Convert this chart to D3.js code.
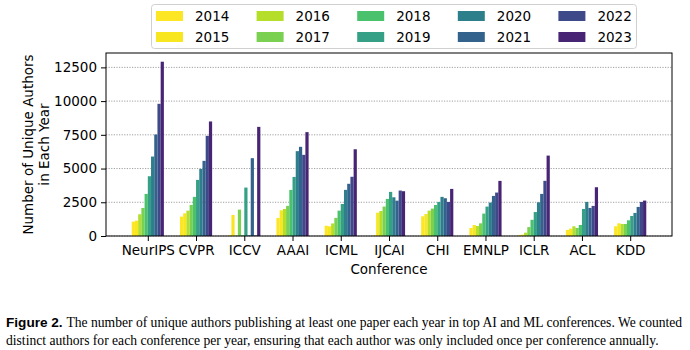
<!DOCTYPE html>
<html>
<head>
<meta charset="utf-8">
<script src="https://cdnjs.cloudflare.com/ajax/libs/d3/7.8.5/d3.min.js"></script>
<style>
  body { margin: 0; background: #fff; }
  svg { display: block; }
</style>
</head>
<body>
<script>
// categories and series
var conferences = ["NeurIPS", "CVPR", "ICCV", "AAAI", "ICML", "IJCAI", "CHI", "EMNLP", "ICLR", "ACL", "KDD"];
var years = [2014, 2015, 2016, 2017, 2018, 2019, 2020, 2021, 2022, 2023];
var yearColors = ["#fde725", "#f8e621", "#b5de2b", "#7ad151", "#4ac16d", "#35a085", "#2e7f8c", "#33638d", "#3e4989", "#482475"];

// unique authors per year (2014..2023), one array per conference
var neurips = [1064, 1140, 1610, 2080, 3120, 4430, 5890, 7525, 9800, 12920];
var cvpr    = [1435, 1680, 1880, 2300, 2900, 4160, 4975, 5570, 7425, 8490];
var iccv    = [60, 1560, 40, 1955, 50, 3590, 50, 5770, 40, 8090];
var aaai    = [1340, 1905, 2005, 2230, 3415, 4380, 6290, 6610, 6015, 7700];
var icml    = [760, 720, 930, 1345, 1880, 2375, 3420, 3870, 4390, 6430];
var ijcai   = [50, 1730, 1855, 2180, 2750, 3270, 2870, 2620, 3370, 3320];
var chi     = [1460, 1630, 1880, 2030, 2300, 2525, 2900, 2800, 2525, 3490];
var emnlp   = [595, 815, 740, 940, 1660, 2180, 2475, 2970, 3220, 4085];
var iclr    = [60, 100, 250, 660, 1200, 1775, 2500, 3120, 4090, 5960];
var acl     = [445, 545, 720, 595, 815, 2005, 2525, 2080, 2230, 3615];
var kdd     = [720, 940, 890, 890, 1165, 1485, 1710, 2155, 2525, 2625];

var yTicks = [0, 2500, 5000, 7500, 10000, 12500];

var seriesByConf = [neurips, cvpr, iccv, aaai, icml, ijcai, chi, emnlp, iclr, acl, kdd];

// flat table for the bars
var rows = [];
conferences.forEach(function(c, ci) {
  years.forEach(function(y, yi) {
    rows.push({conf: ci, year: yi, value: seriesByConf[ci][yi]});
  });
});

var W = 690, H = 350;
var plotL = 106, plotR = 672, plotT = 53, plotB = 236;

var groupW = 2 / 3;
var barW = groupW / years.length;
var lo = -groupW / 2, hi = conferences.length - 1 + groupW / 2;
var pad = (hi - lo) * 0.05;

var x = d3.scaleLinear().domain([lo - pad, hi + pad]).range([plotL, plotR]);
var maxV = d3.max(rows, function(d) { return d.value; });
var y = d3.scaleLinear().domain([0, maxV * 1.05]).range([plotB, plotT]);

var svg = d3.select("body").append("svg")
  .attr("width", W)
  .attr("height", H)
  .style("font-family", "'DejaVu Sans', sans-serif");

svg.append("rect").attr("width", W).attr("height", H).attr("fill", "#fff");

// grid
svg.append("g")
  .selectAll("line")
  .data(yTicks)
  .enter().append("line")
  .attr("x1", plotL).attr("x2", plotR)
  .attr("y1", function(d) { return y(d); })
  .attr("y2", function(d) { return y(d); })
  .attr("stroke", "#888")
  .attr("stroke-width", 0.8)
  .attr("stroke-dasharray", "1.2,1.4");

// bars
svg.append("g")
  .selectAll("rect")
  .data(rows)
  .enter().append("rect")
  .attr("x", function(d) { return x(d.conf + lo + d.year * barW); })
  .attr("width", x(barW) - x(0))
  .attr("y", function(d) { return y(d.value); })
  .attr("height", function(d) { return y(0) - y(d.value); })
  .attr("fill", function(d) { return yearColors[d.year]; });

// axes
var yAxis = d3.axisLeft(y).tickValues(yTicks).tickFormat(d3.format("d"))
  .tickSize(5).tickPadding(4).tickSizeOuter(0);
var gy = svg.append("g").attr("transform", "translate(" + plotL + ",0)").call(yAxis);
gy.select(".domain").remove();
gy.selectAll("text").attr("font-size", 13.5).attr("fill", "#000").attr("font-family", "'DejaVu Sans', sans-serif");

var xAxis = d3.axisBottom(x)
  .tickValues(d3.range(conferences.length))
  .tickFormat(function(i) { return conferences[i]; })
  .tickSize(5).tickPadding(4).tickSizeOuter(0);
var gx = svg.append("g").attr("transform", "translate(0," + plotB + ")").call(xAxis);
gx.select(".domain").remove();
gx.selectAll("text").attr("font-size", 13.5).attr("fill", "#000").attr("font-family", "'DejaVu Sans', sans-serif");

// frame
svg.append("rect")
  .attr("x", plotL).attr("y", plotT)
  .attr("width", plotR - plotL).attr("height", plotB - plotT)
  .attr("fill", "none").attr("stroke", "#000").attr("stroke-width", 1);

// axis titles
svg.append("text")
  .attr("x", (plotL + plotR) / 2).attr("y", 274)
  .attr("text-anchor", "middle")
  .attr("font-size", 13.5)
  .text("Conference");

var yl = svg.append("text")
  .attr("transform", "translate(28," + ((plotT + plotB) / 2) + ") rotate(-90)")
  .attr("text-anchor", "middle")
  .attr("font-size", 13.5);
yl.append("tspan").attr("x", 0).attr("dy", "0.35em").text("Number of Unique Authors");
yl.append("tspan").attr("x", 0).attr("dy", "1.2em").text("in Each Year");

// legend
var legend = svg.append("g");
legend.append("rect")
  .attr("x", 151.5).attr("y", 4.5).attr("width", 485).attr("height", 44)
  .attr("rx", 3)
  .attr("fill", "#fff").attr("stroke", "#d0d0d0");
years.forEach(function(yr, i) {
  var col = Math.floor(i / 2), row = i % 2;
  var lx = 156 + col * 100.6, ly = 16 + row * 21;
  legend.append("rect")
    .attr("x", lx).attr("y", ly - 5).attr("width", 27).attr("height", 10)
    .attr("fill", yearColors[i]);
  legend.append("text")
    .attr("x", lx + 39).attr("y", ly)
    .attr("dy", "0.35em")
    .attr("font-size", 13.5)
    .text(yr);
});

// caption
function captionLine(yPos, bold, rest) {
  var t = svg.append("text").attr("x", 6).attr("y", yPos).attr("font-size", 13.6);
  if (bold) {
    t.append("tspan")
      .attr("font-family", "'Liberation Sans', Arial, sans-serif")
      .attr("font-weight", "bold")
      .text(bold + " ");
  }
  t.append("tspan")
    .attr("font-family", "'Liberation Serif', 'Times New Roman', serif")
    .text(rest);
  return t;
}
captionLine(327, "Figure 2.", "The number of unique authors publishing at least one paper each year in top AI and ML conferences. We counted");
captionLine(345, null, "distinct authors for each conference per year, ensuring that each author was only included once per conference annually.");
</script>
</body>
</html>
